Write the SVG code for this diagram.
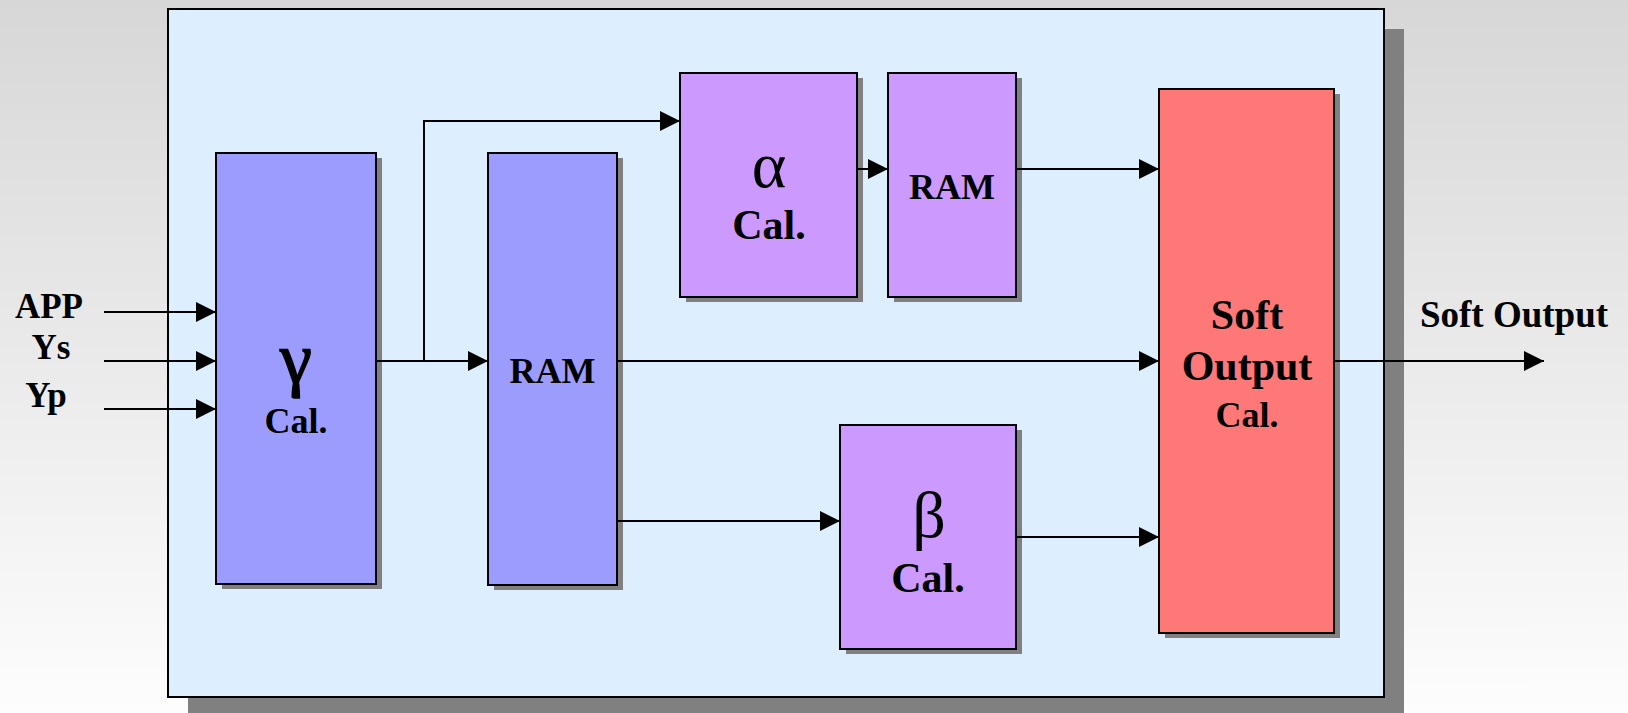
<svg xmlns="http://www.w3.org/2000/svg" width="1628" height="713" viewBox="0 0 1628 713">
<defs>
<linearGradient id="bg" x1="0" y1="0" x2="0" y2="1">
<stop offset="0" stop-color="#d7d7d7"/>
<stop offset="1" stop-color="#fdfdfd"/>
</linearGradient>
<marker id="arr" markerUnits="userSpaceOnUse" markerWidth="20" markerHeight="20" refX="20" refY="10" orient="auto">
<path d="M0,0 L20,10 L0,20 z" fill="#000"/>
</marker>
<style>
.sh{fill:#808080}
.box{stroke:#000;stroke-width:2}
.blue{fill:#9c9cff}
.vio{fill:#cc99ff}
.red{fill:#ff7878}
.t{font-family:"Liberation Serif","Times New Roman",serif;font-weight:bold;fill:#000;text-anchor:middle}
.g{font-family:"Liberation Serif","Times New Roman",serif;font-weight:normal;fill:#000;text-anchor:middle}
.c{stroke:#000;stroke-width:2;fill:none}
</style>
</defs>
<rect x="0" y="0" width="1628" height="713" fill="url(#bg)"/>
<g id="frame">
<rect x="188" y="29" width="1216" height="688" class="sh"/>
<rect x="168" y="9" width="1216" height="688" fill="#ddeeff" class="box"/>
</g>
<g id="gamma">
<rect x="222" y="158" width="160" height="431" class="sh"/>
<rect x="216" y="153" width="160" height="431" class="box blue"/>
<text x="296" y="383" class="g" font-size="72" stroke="#000" stroke-width="1.5">γ</text>
<text x="296" y="433" class="t" font-size="36">Cal.</text>
</g>
<g id="ram1">
<rect x="494" y="158" width="129" height="432" class="sh"/>
<rect x="488" y="153" width="129" height="432" class="box blue"/>
<text x="552.5" y="383" class="t" font-size="36">RAM</text>
</g>
<g id="alpha">
<rect x="686" y="78" width="177" height="224" class="sh"/>
<rect x="680" y="73" width="177" height="224" class="box vio"/>
<text x="769" y="187" class="g" font-size="66">α</text>
<text x="769" y="239" class="t" font-size="42">Cal.</text>
</g>
<g id="ram2">
<rect x="894" y="78" width="128" height="224" class="sh"/>
<rect x="888" y="73" width="128" height="224" class="box vio"/>
<text x="952" y="199" class="t" font-size="36">RAM</text>
</g>
<g id="beta">
<rect x="846" y="430" width="176" height="224" class="sh"/>
<rect x="840" y="425" width="176" height="224" class="box vio"/>
<text x="929" y="537" class="g" font-size="66">β</text>
<text x="928" y="592" class="t" font-size="42">Cal.</text>
</g>
<g id="softout">
<rect x="1165" y="94" width="175" height="544" class="sh"/>
<rect x="1159" y="89" width="175" height="544" class="box red"/>
<text x="1247" y="329" class="t" font-size="42">Soft</text>
<text x="1247" y="380" class="t" font-size="42">Output</text>
<text x="1247" y="427" class="t" font-size="36">Cal.</text>
</g>
<g id="labels">
<text x="49" y="318" class="t" font-size="35">APP</text>
<text x="51" y="359" class="t" font-size="35">Ys</text>
<text x="46" y="407" class="t" font-size="35">Yp</text>
<text x="1514" y="327" class="t" font-size="37">Soft Output</text>
</g>
<g id="connectors">
<line x1="104" y1="312" x2="216" y2="312" class="c" marker-end="url(#arr)"/>
<line x1="104" y1="361" x2="216" y2="361" class="c" marker-end="url(#arr)"/>
<line x1="104" y1="409" x2="216" y2="409" class="c" marker-end="url(#arr)"/>
<line x1="376" y1="361" x2="488" y2="361" class="c" marker-end="url(#arr)"/>
<polyline points="424,361 424,121 680,121" class="c" marker-end="url(#arr)"/>
<line x1="857" y1="169" x2="888" y2="169" class="c" marker-end="url(#arr)"/>
<line x1="1016" y1="169" x2="1159" y2="169" class="c" marker-end="url(#arr)"/>
<line x1="617" y1="361" x2="1159" y2="361" class="c" marker-end="url(#arr)"/>
<line x1="617" y1="521" x2="840" y2="521" class="c" marker-end="url(#arr)"/>
<line x1="1016" y1="537" x2="1159" y2="537" class="c" marker-end="url(#arr)"/>
<line x1="1334" y1="361" x2="1544" y2="361" class="c" marker-end="url(#arr)"/>
</g>
</svg>
